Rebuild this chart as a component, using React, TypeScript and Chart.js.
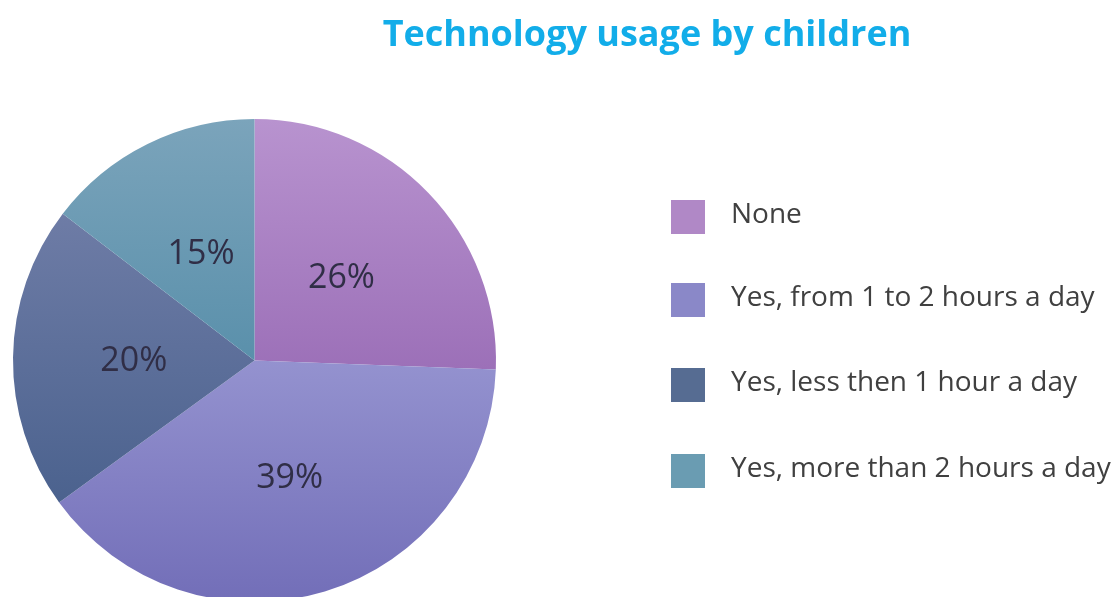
import React, { useEffect, useRef } from "react";
import { Chart, registerables } from "chart.js";

Chart.register(...registerables);

const TITLE = "Technology usage by children";
const categories = [
  "None",
  "Yes, from 1 to 2 hours a day",
  "Yes, less then 1 hour a day",
  "Yes, more than 2 hours a day",
];
const shares = [25.6, 39.4, 20.4, 14.6];
const legendColors = ["#b088c6", "#8a88c8", "#566c92", "#6a9cb2"];
const topColors = ["#b893cf", "#9492cf", "#6e7ca6", "#7ba4bb"];
const bottomColors = ["#9c70b8", "#726eb8", "#4b628e", "#5a90ab"];

function sliceGradient(ctx: any) {
  const chart = ctx.chart;
  const ca = chart.chartArea;
  const i = ctx.dataIndex;
  if (!ca || i === undefined) return legendColors[i ?? 0];
  const cx = (ca.left + ca.right) / 2;
  const cy = (ca.top + ca.bottom) / 2;
  const r = Math.min(ca.right - ca.left, ca.bottom - ca.top) / 2;
  const data: number[] = chart.data.datasets[0].data;
  const total = data.reduce((a, b) => a + b, 0);
  let cum = 0;
  for (let k = 0; k < i; k++) cum += data[k];
  const start = -Math.PI / 2 + (2 * Math.PI * cum) / total;
  const end = start + (2 * Math.PI * data[i]) / total;
  const ys = [cy, cy + r * Math.sin(start), cy + r * Math.sin(end)];
  if (start <= Math.PI / 2 && end >= Math.PI / 2) ys.push(cy + r);
  const y0 = Math.min(...ys);
  const y1 = Math.max(...ys);
  const g = chart.ctx.createLinearGradient(0, y0, 0, y1);
  g.addColorStop(0, topColors[i]);
  g.addColorStop(1, bottomColors[i]);
  return g;
}

const decorPlugin = {
  id: "decor",
  afterDraw(chart: any) {
    const c = chart.ctx;
    c.save();
    // title
    c.fillStyle = "#12ade9";
    c.font = "bold 36px 'Open Sans'";
    c.textAlign = "center";
    c.textBaseline = "middle";
    c.fillText(TITLE, 647, 36);
    // percentage labels
    const meta = chart.getDatasetMeta(0);
    c.fillStyle = "#302e46";
    c.font = "34px 'Open Sans'";
    meta.data.forEach((arc: any, i: number) => {
      const p = arc.getCenterPoint();
      c.fillText(Math.round(shares[i]) + "%", p.x, p.y + 2);
    });
    // legend
    c.textAlign = "left";
    c.font = "28px 'Open Sans'";
    const ys = [217, 300, 385, 471];
    categories.forEach((label, i) => {
      c.fillStyle = legendColors[i];
      c.fillRect(671, ys[i] - 17, 34, 34);
      c.fillStyle = "#404040";
      c.fillText(label, 731, ys[i] - 2);
    });
    c.restore();
  },
};

export default function App() {
  const ref = useRef<HTMLCanvasElement>(null);
  useEffect(() => {
    if (!ref.current) return;
    const chart = new Chart(ref.current, {
      type: "pie",
      data: {
        labels: categories,
        datasets: [
          {
            data: shares,
            backgroundColor: sliceGradient as any,
            borderWidth: 0,
            hoverOffset: 0,
          },
        ],
      },
      options: {
        responsive: false,
        animation: false,
        layout: { padding: { left: 13, top: 119, right: 615, bottom: 8 } },
        plugins: {
          legend: { display: false },
          title: { display: false },
          tooltip: { enabled: false },
        },
      },
      plugins: [decorPlugin],
    });
    return () => chart.destroy();
  }, []);
  return (
    <div style={{ position: "absolute", left: 0, top: 0, width: 1111, height: 597, overflow: "hidden", background: "#fff" }}>
      <canvas ref={ref} width={1111} height={610} style={{ display: "block" }} />
    </div>
  );
}
